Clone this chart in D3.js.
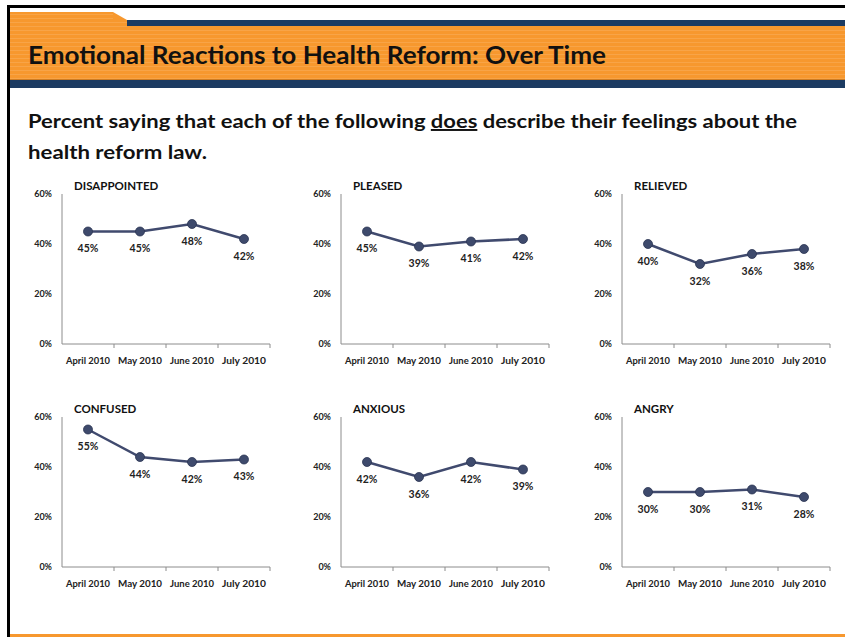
<!DOCTYPE html>
<html><head><meta charset="utf-8">
<script src="https://cdn.jsdelivr.net/npm/d3@7"></script>
<style>body{margin:0;background:#fff}svg{display:block}text{font-family:Lato,"Open Sans",sans-serif;font-weight:bold}</style>
</head><body>
<script>
const months = ["April 2010","May 2010","June 2010","July 2010"];
const emotions = ["DISAPPOINTED","PLEASED","RELIEVED","CONFUSED","ANXIOUS","ANGRY"];
const disappointed = [45,45,48,42];
const pleased = [45,39,41,42];
const relieved = [40,32,36,38];
const confused = [55,44,42,43];
const anxious = [42,36,42,39];
const angry = [30,30,31,28];
const yTicks = [0,20,40,60];
const seriesList = [disappointed,pleased,relieved,confused,anxious,angry];

const W=845,H=637;
const svg=d3.select("body").append("svg").attr("width",W).attr("height",H);
const orange="#F7982E", navy="#1C3B62";

// frame
svg.append("rect").attr("x",7).attr("y",5).attr("width",W-7).attr("height",3).attr("fill","#000");
svg.append("rect").attr("x",7).attr("y",5).attr("width",3).attr("height",H-5).attr("fill","#000");
svg.append("rect").attr("x",10).attr("y",634).attr("width",W-10).attr("height",3).attr("fill",orange);

// header
svg.append("rect").attr("x",127).attr("y",20).attr("width",W-127).attr("height",7).attr("fill",navy);
svg.append("path").attr("d","M10,12 L113,12 L127,20 L127,27 L10,27 Z").attr("fill",orange);
svg.append("rect").attr("x",10).attr("y",26).attr("width",W-10).attr("height",54).attr("fill",orange);
for(let y=14;y<80;y+=4){
  const x1 = y<20 ? 113 : (y<27 ? 127 : W);
  svg.append("rect").attr("x",10).attr("y",y).attr("width",x1-10).attr("height",1).attr("fill","#fff").attr("opacity",0.12);
}
svg.append("rect").attr("x",10).attr("y",79).attr("width",W-10).attr("height",1).attr("fill","#b46a1a").attr("opacity",0.6);
svg.append("rect").attr("x",10).attr("y",80).attr("width",W-10).attr("height",8).attr("fill",navy);

svg.append("text").attr("x",28).attr("y",64).attr("font-size",24).attr("fill","#111")
  .attr("textLength",578).attr("lengthAdjust","spacingAndGlyphs")
  .text("Emotional Reactions to Health Reform: Over Time");

const sub=svg.append("text").attr("x",28).attr("y",128).attr("font-size",19.5).attr("fill","#111")
  .attr("textLength",769).attr("lengthAdjust","spacingAndGlyphs");
sub.append("tspan").text("Percent saying that each of the following ");
sub.append("tspan").attr("text-decoration","underline").text("does");
sub.append("tspan").text(" describe their feelings about the");
svg.append("text").attr("x",28).attr("y",159).attr("font-size",19.5).attr("fill","#111")
  .attr("textLength",179).attr("lengthAdjust","spacingAndGlyphs")
  .text("health reform law.");

// panels
const colX=[62,341,622], rowTop=[194,417];
const pw=208, ph=150;
const lineColor="#404A6E";
seriesList.forEach((vals,i)=>{
  const col=i%3,row=Math.floor(i/3);
  const g=svg.append("g").attr("transform",`translate(${colX[col]},${rowTop[row]})`);
  const x=d3.scaleBand().domain(months).range([0,pw]);
  const y=d3.scaleLinear().domain([0,60]).range([ph,0]);
  g.append("line").attr("x1",0).attr("x2",0).attr("y1",0).attr("y2",ph).attr("stroke","#8c8c8c").attr("stroke-width",1);
  g.selectAll(".yt").data(yTicks).join("text").attr("x",-10).attr("y",d=>y(d)).attr("dy","0.35em")
    .attr("text-anchor","end").attr("font-size",9).attr("fill","#222").text(d=>d+"%");
  g.append("line").attr("x1",0).attr("x2",pw).attr("y1",ph).attr("y2",ph).attr("stroke","#8c8c8c").attr("stroke-width",1);
  g.selectAll(".xt").data(months.slice(1).concat(["end"])).join("line")
    .attr("x1",(d,k)=> k<3 ? x(d) : pw).attr("x2",(d,k)=> k<3 ? x(d) : pw)
    .attr("y1",ph).attr("y2",ph+4).attr("stroke","#8c8c8c");
  g.selectAll(".xl").data(months).join("text").attr("x",d=>x(d)+x.bandwidth()/2).attr("y",ph+20)
    .attr("text-anchor","middle").attr("font-size",9).attr("fill","#222")
    .attr("textLength",44).attr("lengthAdjust","spacingAndGlyphs").text(d=>d);
  g.append("text").attr("x",12).attr("y",-4).attr("font-size",11.5).attr("fill","#111").text(emotions[i]);
  const line=d3.line().x((d,k)=>x(months[k])+x.bandwidth()/2).y(d=>y(d));
  g.append("path").datum(vals).attr("d",line).attr("fill","none").attr("stroke",lineColor).attr("stroke-width",2.5);
  g.selectAll("circle").data(vals).join("circle").attr("cx",(d,k)=>x(months[k])+x.bandwidth()/2).attr("cy",d=>y(d))
    .attr("r",4.5).attr("fill","#3E4A6C").attr("stroke","#2a3352").attr("stroke-width",0.8);
  g.selectAll(".dl").data(vals).join("text").attr("x",(d,k)=>x(months[k])+x.bandwidth()/2).attr("y",d=>y(d)+20.5)
    .attr("text-anchor","middle").attr("font-size",10.5).attr("fill","#222").text(d=>d+"%");
});
</script>
</body></html>
